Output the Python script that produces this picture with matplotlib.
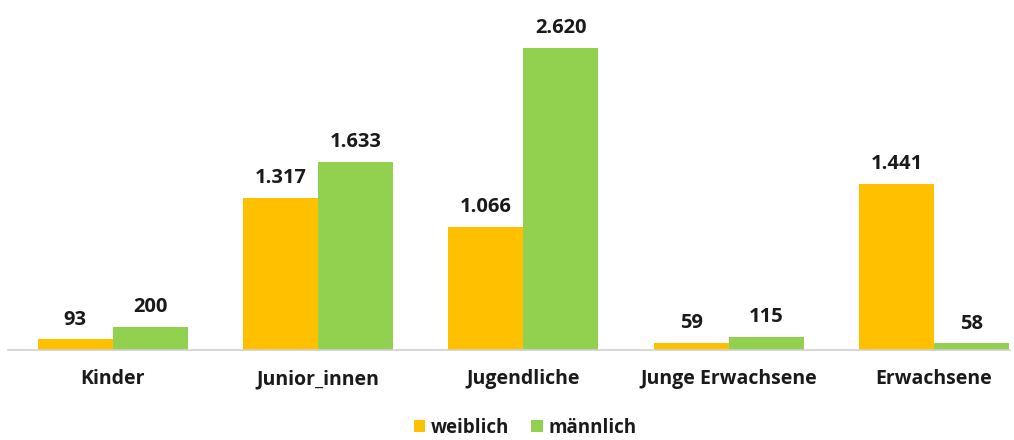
import matplotlib.pyplot as plt
import numpy as np

plt.rcParams['font.family'] = ['Open Sans', 'DejaVu Sans']

categories = ['Kinder', 'Junior_innen', 'Jugendliche', 'Junge Erwachsene', 'Erwachsene']
weiblich = [93, 1317, 1066, 59, 1441]
maennlich = [200, 1633, 2620, 115, 58]
series_names = ['weiblich', 'männlich']
colors = ['#FFC000', '#92D050']


def fmt(v):
    return f'{v:,}'.replace(',', '.')


fig = plt.figure(figsize=(10.14, 4.4), dpi=100)
ax = fig.add_axes([8 / 1014, 90 / 440, 1002 / 1014, 340 / 440])

x = np.arange(len(categories))
w = 0.365
for i, (vals, name) in enumerate(zip([weiblich, maennlich], series_names)):
    pos = x + (i - 0.5) * w
    ax.bar(pos, vals, width=w, color=colors[i], label=name)
    for px, v in zip(pos, vals):
        ax.annotate(fmt(v), (px, v), xytext=(0, 7), textcoords='offset points',
                    ha='center', va='bottom', fontsize=14.5, fontweight='bold',
                    color='#1a1a1a')

ax.set_xlim(-0.51, 4.37)
ax.set_ylim(0, 2950)
ax.set_yticks([])
ax.set_xticks(x)
ax.set_xticklabels(categories, fontsize=14, fontweight='bold', color='#1a1a1a')
ax.tick_params(axis='x', length=0, pad=14)
for s in ['top', 'right', 'left']:
    ax.spines[s].set_visible(False)
ax.spines['bottom'].set_color('#d0d0d0')
ax.spines['bottom'].set_linewidth(1.2)

leg = fig.legend(loc='center', bbox_to_anchor=(525 / 1014, 1 - 428 / 440), ncol=2,
                 frameon=False, prop={'size': 13.5, 'weight': 'bold'},
                 handlelength=0.6, handleheight=0.6, handletextpad=0.3,
                 columnspacing=1.2)
for t in leg.get_texts():
    t.set_color('#1a1a1a')

fig.savefig('out.png', dpi=100)
